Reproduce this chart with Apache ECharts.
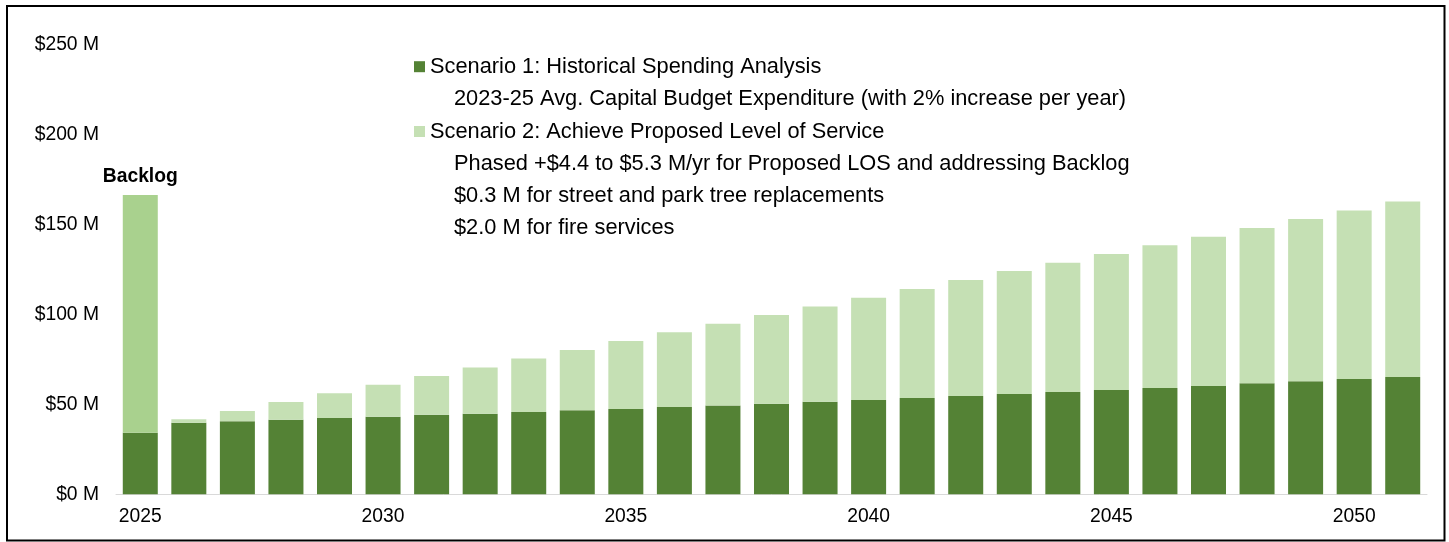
<!DOCTYPE html>
<html>
<head>
<meta charset="utf-8">
<script src="https://cdn.jsdelivr.net/npm/echarts@6/dist/echarts.min.js"></script>
<style>
  html, body { margin: 0; padding: 0; background: #fff; }
  #chart { width: 1449px; height: 542px; }
</style>
</head>
<body>
<div id="chart"></div>
<script>
// ---- data ----
const years = ['2025','2026','2027','2028','2029','2030','2031','2032','2033','2034','2035','2036','2037','2038','2039','2040','2041','2042','2043','2044','2045','2046','2047','2048','2049','2050','2051'];
// Scenario 1: historical spending ($M)
const scenario1 = [34.2, 39.8, 40.6, 41.4, 42.4, 43.1, 44.2, 44.8, 45.7, 46.7, 47.4, 48.5, 49.4, 50.3, 51.4, 52.4, 53.5, 54.6, 55.7, 56.8, 57.9, 59.1, 60.2, 61.7, 62.8, 64.1, 65.2];
// Scenario 2: additional amount on top of Scenario 1 ($M)
const scenario2 = [132.1, 1.9, 5.7, 9.9, 13.7, 17.8, 21.5, 25.7, 29.7, 33.5, 37.8, 41.5, 45.4, 49.3, 53.0, 56.8, 60.6, 64.5, 68.3, 71.9, 75.6, 79.2, 82.9, 86.3, 90.1, 93.6, 97.4];
const yTicks = { min: 0, max: 250, interval: 50 };
const seriesNames = ['Scenario 1: Historical Spending Analysis', 'Scenario 2: Achieve Proposed Level of Service'];
const scenario1Notes = ['2023-25 Avg. Capital Budget Expenditure (with 2% increase per year)'];
const scenario2Notes = ['Phased +$4.4 to $5.3 M/yr for Proposed LOS and addressing Backlog', '$0.3 M for street and park tree replacements', '$2.0 M for fire services'];
const backlogLabel = 'Backlog';
const backlogIndex = 0;

// ---- styles ----
const FONT = "'Liberation Sans', Arial, sans-serif";
const DARK = '#548235';
const LIGHT = '#c5e0b4';
const BACKLOG = '#a9d18e';
const LEG_FS = 21.8;

const chart = echarts.init(document.getElementById('chart'));

const s2data = scenario2.map((v, i) => i === backlogIndex ? {
  value: v,
  itemStyle: { color: BACKLOG },
  label: {
    show: true, position: 'top', distance: 9, formatter: backlogLabel,
    fontFamily: FONT, fontSize: 19.3, fontWeight: 'bold', color: '#000'
  }
} : v);

const noteLines = [
  { text: scenario1Notes[0], y: 98.5 },
  { text: scenario2Notes[0], y: 164 },
  { text: scenario2Notes[1], y: 196 },
  { text: scenario2Notes[2], y: 228 }
];

const graphics = noteLines.map(n => ({
  type: 'text', x: 454, y: n.y, silent: true,
  style: { text: n.text, font: LEG_FS + 'px ' + FONT, fill: '#000', verticalAlign: 'middle', align: 'left' }
}));
graphics.push({
  type: 'rect', silent: true, z: 100,
  shape: { x: 7, y: 6, width: 1437.5, height: 534.5 },
  style: { fill: 'none', stroke: '#000', lineWidth: 2 }
});

const legendBase = {
  orient: 'vertical', left: 414, padding: 0, itemWidth: 11, itemHeight: 11, itemGap: 0,
  icon: 'rect', selectedMode: false,
  textStyle: { fontFamily: FONT, fontSize: LEG_FS, color: '#000', lineHeight: 22 }
};

chart.setOption({
  animation: false,
  backgroundColor: '#fff',
  grid: { left: 116, right: 22, top: 44.3, bottom: 47.7, containLabel: false },
  legend: [
    Object.assign({}, legendBase, { top: 55.7, data: [seriesNames[0]] }),
    Object.assign({}, legendBase, { top: 120.5, data: [seriesNames[1]] })
  ],
  graphic: graphics,
  xAxis: {
    type: 'category', data: years,
    axisLine: { show: true, lineStyle: { color: '#d9d9d9', width: 1 } },
    axisTick: { show: false },
    axisLabel: { interval: 4, fontFamily: FONT, fontSize: 19.3, color: '#000', margin: 13 }
  },
  yAxis: {
    type: 'value', min: yTicks.min, max: yTicks.max, interval: yTicks.interval,
    axisLine: { show: false }, axisTick: { show: false }, splitLine: { show: false },
    axisLabel: { formatter: v => '$' + v + ' M', fontFamily: FONT, fontSize: 19.3, color: '#000', margin: 17 }
  },
  series: [
    { name: seriesNames[0], type: 'bar', stack: 'total', barWidth: 35, data: scenario1, itemStyle: { color: DARK } },
    { name: seriesNames[1], type: 'bar', stack: 'total', barWidth: 35, data: s2data, itemStyle: { color: LIGHT } }
  ]
});
</script>
</body>
</html>
